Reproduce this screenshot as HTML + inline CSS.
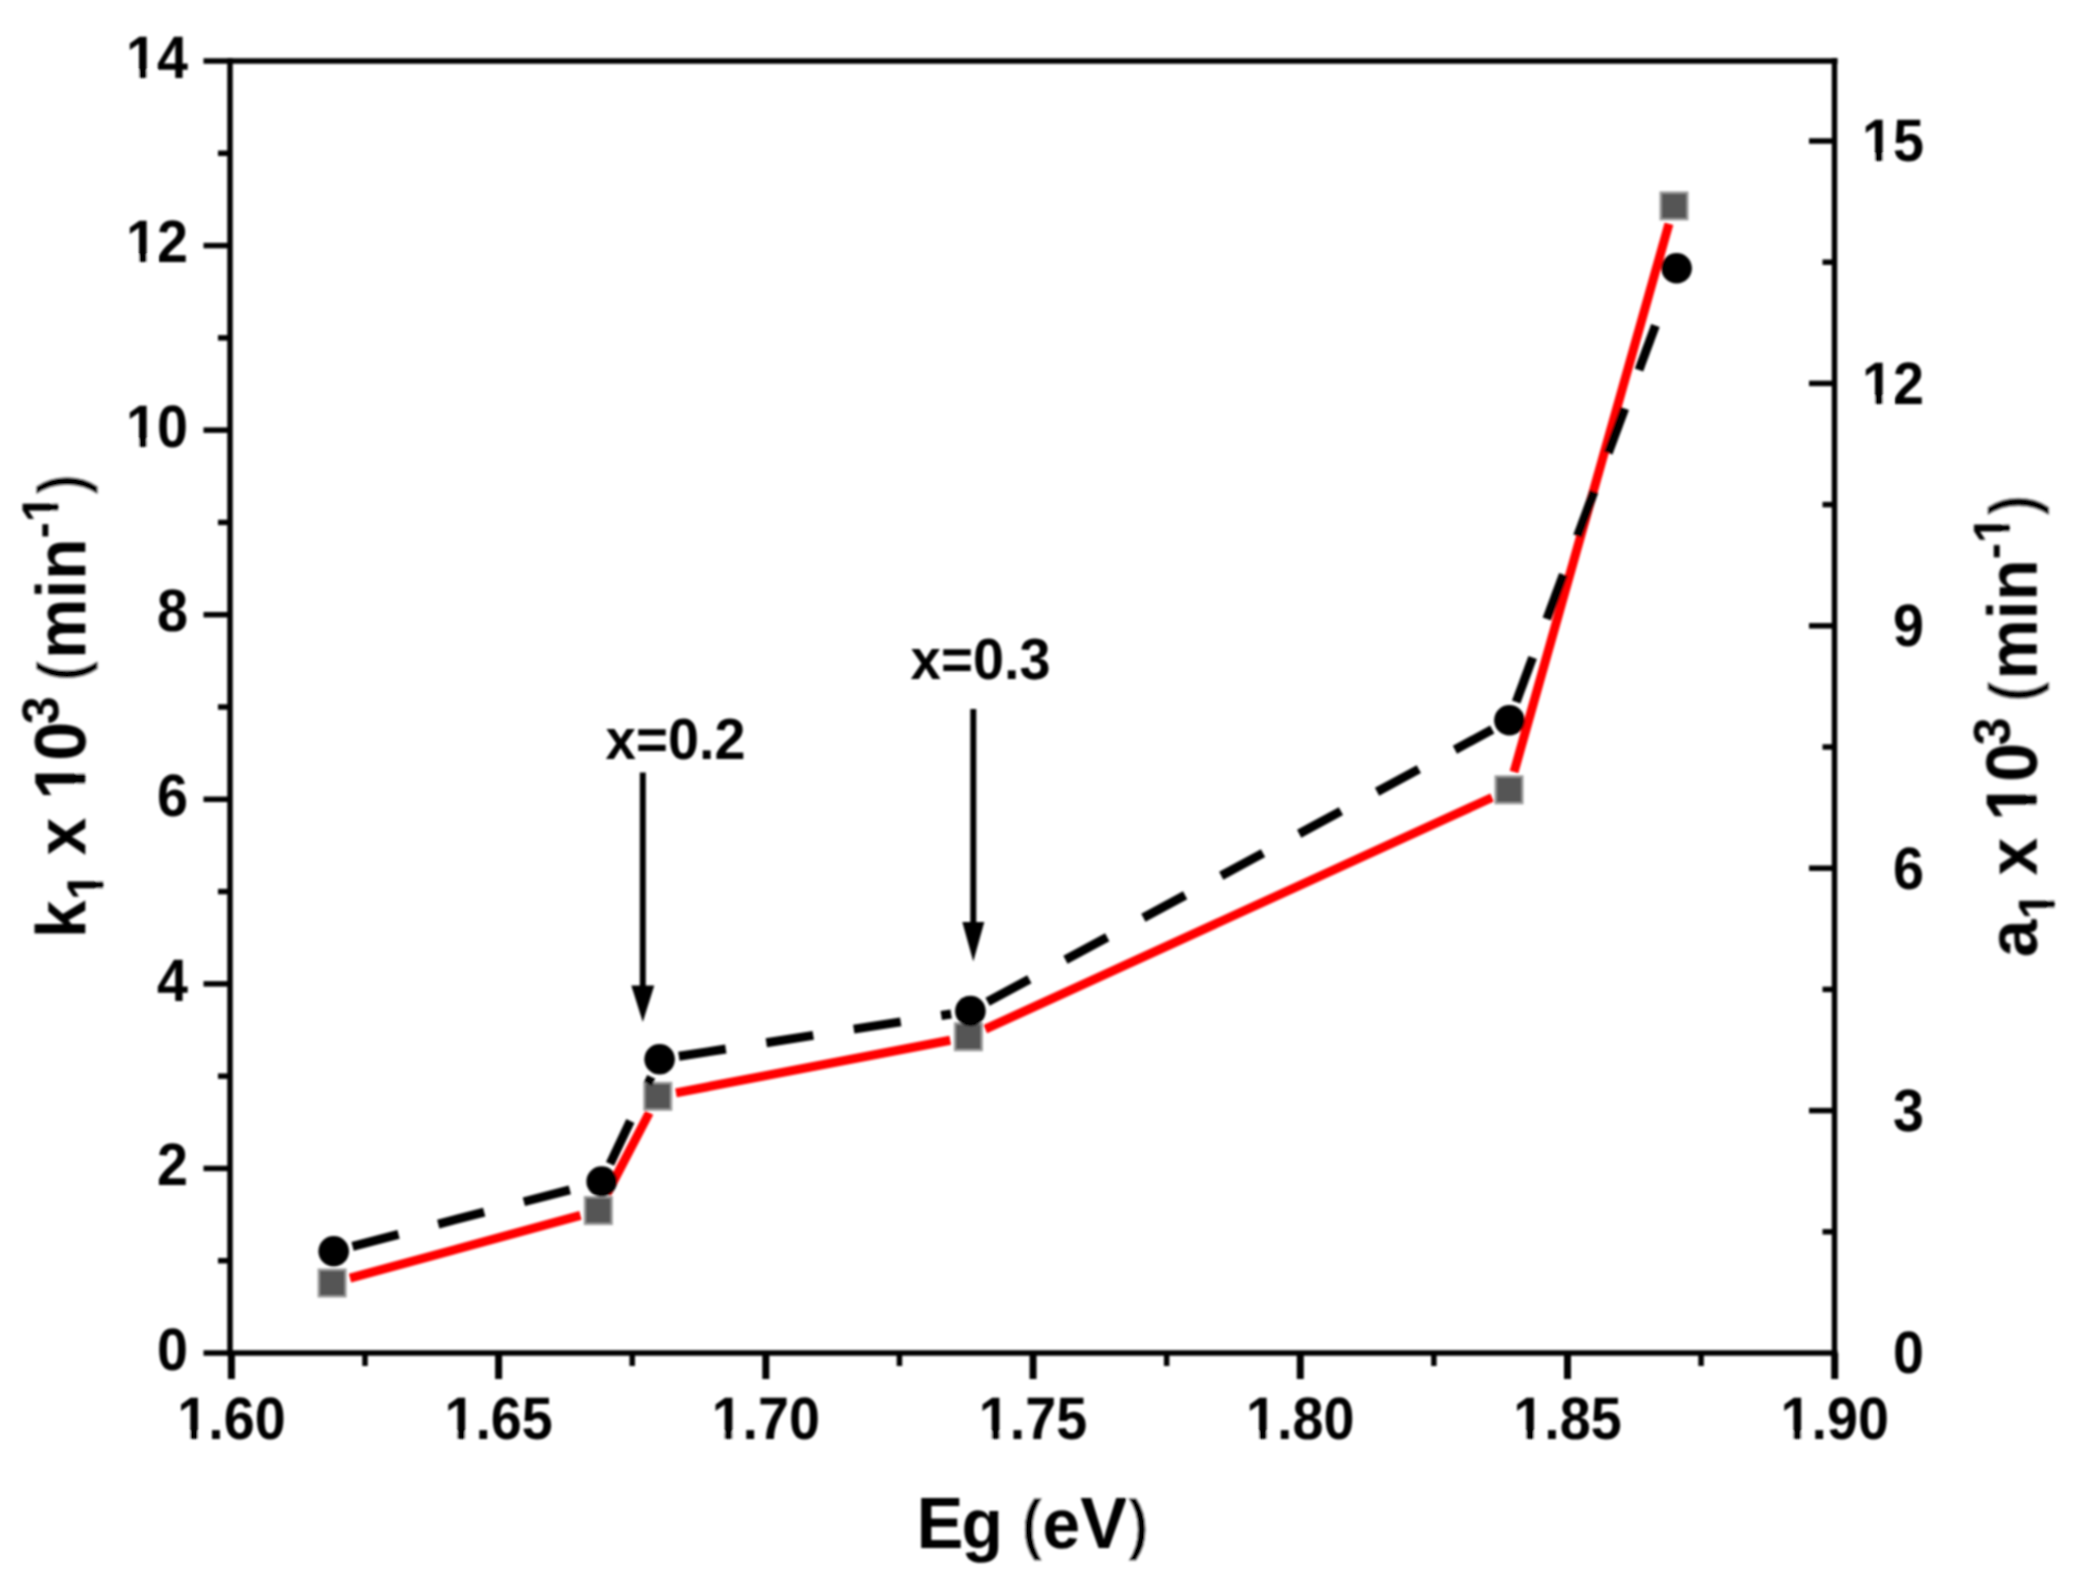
<!DOCTYPE html>
<html><head><meta charset="utf-8"><title>k1 and a1 versus Eg</title>
<style>html,body{margin:0;padding:0;background:#fff}svg{display:block}text{font-family:"Liberation Sans",sans-serif;font-weight:bold;fill:#000;font-kerning:none;text-rendering:geometricPrecision}.w{fill:#fff}</style></head><body>
<svg width="2079" height="1589" viewBox="0 0 2079 1589">
<defs><filter id="soft" x="0" y="0" width="2079" height="1589" filterUnits="userSpaceOnUse"><feGaussianBlur stdDeviation="1.0"/></filter></defs>
<rect width="2079" height="1589" fill="#fff"/>
<g filter="url(#soft)">
<g id="red">
<line x1="349.95" y1="1278.14" x2="580.45" y2="1215.46" stroke="#ff0000" stroke-width="9"/>
<line x1="606.84" y1="1194.19" x2="649.26" y2="1112.71" stroke="#ff0000" stroke-width="9"/>
<line x1="675.97" y1="1092.82" x2="950.23" y2="1040.28" stroke="#ff0000" stroke-width="9"/>
<line x1="985.23" y1="1029.11" x2="1492.17" y2="797.49" stroke="#ff0000" stroke-width="9"/>
<line x1="1514.03" y1="772.00" x2="1668.97" y2="223.70" stroke="#ff0000" stroke-width="9"/>
</g><g id="squares">
<rect x="317.6" y="1268.5" width="29" height="29" fill="#9a9a9a"/>
<rect x="319.9" y="1270.8" width="24.5" height="24.5" fill="#555"/>
<rect x="583.8" y="1196.1" width="29" height="29" fill="#9a9a9a"/>
<rect x="586.0" y="1198.3" width="24.5" height="24.5" fill="#555"/>
<rect x="643.3" y="1081.8" width="29" height="29" fill="#9a9a9a"/>
<rect x="645.5" y="1084.0" width="24.5" height="24.5" fill="#555"/>
<rect x="953.9" y="1022.3" width="29" height="29" fill="#9a9a9a"/>
<rect x="956.1" y="1024.5" width="24.5" height="24.5" fill="#555"/>
<rect x="1494.5" y="775.3" width="29" height="29" fill="#9a9a9a"/>
<rect x="1496.8" y="777.5" width="24.5" height="24.5" fill="#555"/>
<rect x="1659.5" y="191.4" width="29" height="29" fill="#9a9a9a"/>
<rect x="1661.8" y="193.7" width="24.5" height="24.5" fill="#555"/>
</g><g id="dash">
<line x1="352.57" y1="1246.29" x2="398.54" y2="1234.34" stroke="#000" stroke-width="9"/>
<line x1="438.22" y1="1224.02" x2="484.19" y2="1212.06" stroke="#000" stroke-width="9"/>
<line x1="523.87" y1="1201.74" x2="569.84" y2="1189.78" stroke="#000" stroke-width="9"/>
<line x1="610.05" y1="1163.88" x2="630.39" y2="1120.95" stroke="#000" stroke-width="9"/>
<line x1="647.94" y1="1083.90" x2="651.25" y2="1076.92" stroke="#000" stroke-width="9"/>
<line x1="678.87" y1="1056.31" x2="725.81" y2="1049.01" stroke="#000" stroke-width="9"/>
<line x1="766.32" y1="1042.72" x2="813.26" y2="1035.42" stroke="#000" stroke-width="9"/>
<line x1="853.77" y1="1029.13" x2="900.71" y2="1021.83" stroke="#000" stroke-width="9"/>
<line x1="941.22" y1="1015.53" x2="951.13" y2="1013.99" stroke="#000" stroke-width="9"/>
<line x1="987.56" y1="1001.74" x2="1029.37" y2="979.20" stroke="#000" stroke-width="9"/>
<line x1="1065.46" y1="959.73" x2="1107.26" y2="937.19" stroke="#000" stroke-width="9"/>
<line x1="1143.35" y1="917.72" x2="1185.16" y2="895.17" stroke="#000" stroke-width="9"/>
<line x1="1221.24" y1="875.71" x2="1263.05" y2="853.16" stroke="#000" stroke-width="9"/>
<line x1="1299.14" y1="833.70" x2="1340.94" y2="811.15" stroke="#000" stroke-width="9"/>
<line x1="1377.03" y1="791.69" x2="1418.84" y2="769.14" stroke="#000" stroke-width="9"/>
<line x1="1454.92" y1="749.68" x2="1492.24" y2="729.56" stroke="#000" stroke-width="9"/>
<line x1="1516.16" y1="702.01" x2="1532.64" y2="657.46" stroke="#000" stroke-width="9"/>
<line x1="1546.86" y1="619.01" x2="1563.34" y2="574.45" stroke="#000" stroke-width="9"/>
<line x1="1577.56" y1="536.00" x2="1594.04" y2="491.45" stroke="#000" stroke-width="9"/>
<line x1="1608.26" y1="452.99" x2="1624.73" y2="408.44" stroke="#000" stroke-width="9"/>
<line x1="1638.96" y1="369.99" x2="1655.43" y2="325.44" stroke="#000" stroke-width="9"/>
</g><g id="circles">
<circle cx="333.7" cy="1251.2" r="15.3" fill="#000"/>
<circle cx="601.7" cy="1181.5" r="15.3" fill="#000"/>
<circle cx="659.6" cy="1059.3" r="15.3" fill="#000"/>
<circle cx="970.4" cy="1011.0" r="15.3" fill="#000"/>
<circle cx="1509.4" cy="720.3" r="15.3" fill="#000"/>
<circle cx="1676.6" cy="268.2" r="15.3" fill="#000"/>
</g>
<g id="axes">
<line x1="203.50" y1="61.00" x2="1837.50" y2="61.00" stroke="#000" stroke-width="5.5"/>
<line x1="203.50" y1="1353.00" x2="1837.50" y2="1353.00" stroke="#000" stroke-width="5.5"/>
<line x1="230.00" y1="58.00" x2="230.00" y2="1356.00" stroke="#000" stroke-width="5.5"/>
<line x1="1834.50" y1="58.00" x2="1834.50" y2="1356.00" stroke="#000" stroke-width="5.5"/>
<line x1="218.00" y1="1260.71" x2="230.00" y2="1260.71" stroke="#000" stroke-width="5.5"/>
<line x1="203.50" y1="1168.43" x2="230.00" y2="1168.43" stroke="#000" stroke-width="5.5"/>
<line x1="218.00" y1="1076.14" x2="230.00" y2="1076.14" stroke="#000" stroke-width="5.5"/>
<line x1="203.50" y1="983.86" x2="230.00" y2="983.86" stroke="#000" stroke-width="5.5"/>
<line x1="218.00" y1="891.57" x2="230.00" y2="891.57" stroke="#000" stroke-width="5.5"/>
<line x1="203.50" y1="799.29" x2="230.00" y2="799.29" stroke="#000" stroke-width="5.5"/>
<line x1="218.00" y1="707.00" x2="230.00" y2="707.00" stroke="#000" stroke-width="5.5"/>
<line x1="203.50" y1="614.71" x2="230.00" y2="614.71" stroke="#000" stroke-width="5.5"/>
<line x1="218.00" y1="522.43" x2="230.00" y2="522.43" stroke="#000" stroke-width="5.5"/>
<line x1="203.50" y1="430.14" x2="230.00" y2="430.14" stroke="#000" stroke-width="5.5"/>
<line x1="218.00" y1="337.86" x2="230.00" y2="337.86" stroke="#000" stroke-width="5.5"/>
<line x1="203.50" y1="245.57" x2="230.00" y2="245.57" stroke="#000" stroke-width="5.5"/>
<line x1="218.00" y1="153.29" x2="230.00" y2="153.29" stroke="#000" stroke-width="5.5"/>
<line x1="1822.50" y1="1231.80" x2="1834.50" y2="1231.80" stroke="#000" stroke-width="5.5"/>
<line x1="1809.00" y1="1110.60" x2="1834.50" y2="1110.60" stroke="#000" stroke-width="5.5"/>
<line x1="1822.50" y1="989.40" x2="1834.50" y2="989.40" stroke="#000" stroke-width="5.5"/>
<line x1="1809.00" y1="868.20" x2="1834.50" y2="868.20" stroke="#000" stroke-width="5.5"/>
<line x1="1822.50" y1="747.00" x2="1834.50" y2="747.00" stroke="#000" stroke-width="5.5"/>
<line x1="1809.00" y1="625.80" x2="1834.50" y2="625.80" stroke="#000" stroke-width="5.5"/>
<line x1="1822.50" y1="504.60" x2="1834.50" y2="504.60" stroke="#000" stroke-width="5.5"/>
<line x1="1809.00" y1="383.40" x2="1834.50" y2="383.40" stroke="#000" stroke-width="5.5"/>
<line x1="1822.50" y1="262.20" x2="1834.50" y2="262.20" stroke="#000" stroke-width="5.5"/>
<line x1="1809.00" y1="141.00" x2="1834.50" y2="141.00" stroke="#000" stroke-width="5.5"/>
<line x1="231.40" y1="1353.00" x2="231.40" y2="1379.00" stroke="#000" stroke-width="7.0"/>
<line x1="365.01" y1="1353.00" x2="365.01" y2="1366.00" stroke="#000" stroke-width="5.5"/>
<line x1="498.62" y1="1353.00" x2="498.62" y2="1379.00" stroke="#000" stroke-width="7.0"/>
<line x1="632.22" y1="1353.00" x2="632.22" y2="1366.00" stroke="#000" stroke-width="5.5"/>
<line x1="765.83" y1="1353.00" x2="765.83" y2="1379.00" stroke="#000" stroke-width="7.0"/>
<line x1="899.44" y1="1353.00" x2="899.44" y2="1366.00" stroke="#000" stroke-width="5.5"/>
<line x1="1033.05" y1="1353.00" x2="1033.05" y2="1379.00" stroke="#000" stroke-width="7.0"/>
<line x1="1166.66" y1="1353.00" x2="1166.66" y2="1366.00" stroke="#000" stroke-width="5.5"/>
<line x1="1300.27" y1="1353.00" x2="1300.27" y2="1379.00" stroke="#000" stroke-width="7.0"/>
<line x1="1433.88" y1="1353.00" x2="1433.88" y2="1366.00" stroke="#000" stroke-width="5.5"/>
<line x1="1567.48" y1="1353.00" x2="1567.48" y2="1379.00" stroke="#000" stroke-width="7.0"/>
<line x1="1701.09" y1="1353.00" x2="1701.09" y2="1366.00" stroke="#000" stroke-width="5.5"/>
<line x1="1834.70" y1="1353.00" x2="1834.70" y2="1379.00" stroke="#000" stroke-width="7.0"/>
</g>
<g id="labels">
<g transform="translate(188.00,1369.70) scale(0.9313461538461538,1)">
<text><tspan x="-33.26" y="0.00" font-size="59.800000000000004">0</tspan></text>
</g>
<g transform="translate(188.00,1185.13) scale(0.9313461538461538,1)">
<text><tspan x="-33.26" y="0.00" font-size="59.800000000000004">2</tspan></text>
</g>
<g transform="translate(188.00,1000.56) scale(0.9313461538461538,1)">
<text><tspan x="-33.26" y="0.00" font-size="59.800000000000004">4</tspan></text>
</g>
<g transform="translate(188.00,815.99) scale(0.9313461538461538,1)">
<text><tspan x="-33.26" y="0.00" font-size="59.800000000000004">6</tspan></text>
</g>
<g transform="translate(188.00,631.41) scale(0.9313461538461538,1)">
<text><tspan x="-33.26" y="0.00" font-size="59.800000000000004">8</tspan></text>
</g>
<g transform="translate(188.00,446.84) scale(0.9313461538461538,1)">
<text><tspan x="-66.52" y="0.00" font-size="59.800000000000004">10</tspan></text>
<rect class="w" x="-63.74" y="-7.30" width="11.12" height="8.47"/>
<rect class="w" x="-44.30" y="-7.30" width="10.37" height="8.47"/>
</g>
<g transform="translate(188.00,262.27) scale(0.9313461538461538,1)">
<text><tspan x="-66.52" y="0.00" font-size="59.800000000000004">12</tspan></text>
<rect class="w" x="-63.74" y="-7.30" width="11.12" height="8.47"/>
<rect class="w" x="-44.30" y="-7.30" width="10.37" height="8.47"/>
</g>
<g transform="translate(188.00,77.70) scale(0.9313461538461538,1)">
<text><tspan x="-66.52" y="0.00" font-size="59.800000000000004">14</tspan></text>
<rect class="w" x="-63.74" y="-7.30" width="11.12" height="8.47"/>
<rect class="w" x="-44.30" y="-7.30" width="10.37" height="8.47"/>
</g>
<g transform="translate(1924.00,1373.30) scale(0.9313461538461538,1)">
<text><tspan x="-33.26" y="0.00" font-size="59.800000000000004">0</tspan></text>
</g>
<g transform="translate(1924.00,1130.90) scale(0.9313461538461538,1)">
<text><tspan x="-33.26" y="0.00" font-size="59.800000000000004">3</tspan></text>
</g>
<g transform="translate(1924.00,888.50) scale(0.9313461538461538,1)">
<text><tspan x="-33.26" y="0.00" font-size="59.800000000000004">6</tspan></text>
</g>
<g transform="translate(1924.00,646.10) scale(0.9313461538461538,1)">
<text><tspan x="-33.26" y="0.00" font-size="59.800000000000004">9</tspan></text>
</g>
<g transform="translate(1924.00,403.70) scale(0.9313461538461538,1)">
<text><tspan x="-66.52" y="0.00" font-size="59.800000000000004">12</tspan></text>
<rect class="w" x="-63.74" y="-7.30" width="11.12" height="8.47"/>
<rect class="w" x="-44.30" y="-7.30" width="10.37" height="8.47"/>
</g>
<g transform="translate(1924.00,161.30) scale(0.9313461538461538,1)">
<text><tspan x="-66.52" y="0.00" font-size="59.800000000000004">15</tspan></text>
<rect class="w" x="-63.74" y="-7.30" width="11.12" height="8.47"/>
<rect class="w" x="-44.30" y="-7.30" width="10.37" height="8.47"/>
</g>
<g transform="translate(231.40,1439.00) scale(0.9313461538461538,1)">
<text><tspan x="-58.19" y="0.00" font-size="59.800000000000004">1.60</tspan></text>
<rect class="w" x="-55.42" y="-7.30" width="11.12" height="8.47"/>
<rect class="w" x="-35.97" y="-7.30" width="10.37" height="8.47"/>
</g>
<g transform="translate(498.62,1439.00) scale(0.9313461538461538,1)">
<text><tspan x="-58.19" y="0.00" font-size="59.800000000000004">1.65</tspan></text>
<rect class="w" x="-55.42" y="-7.30" width="11.12" height="8.47"/>
<rect class="w" x="-35.97" y="-7.30" width="10.37" height="8.47"/>
</g>
<g transform="translate(765.83,1439.00) scale(0.9313461538461538,1)">
<text><tspan x="-58.19" y="0.00" font-size="59.800000000000004">1.70</tspan></text>
<rect class="w" x="-55.42" y="-7.30" width="11.12" height="8.47"/>
<rect class="w" x="-35.97" y="-7.30" width="10.37" height="8.47"/>
</g>
<g transform="translate(1033.05,1439.00) scale(0.9313461538461538,1)">
<text><tspan x="-58.19" y="0.00" font-size="59.800000000000004">1.75</tspan></text>
<rect class="w" x="-55.42" y="-7.30" width="11.12" height="8.47"/>
<rect class="w" x="-35.97" y="-7.30" width="10.37" height="8.47"/>
</g>
<g transform="translate(1300.27,1439.00) scale(0.9313461538461538,1)">
<text><tspan x="-58.19" y="0.00" font-size="59.800000000000004">1.80</tspan></text>
<rect class="w" x="-55.42" y="-7.30" width="11.12" height="8.47"/>
<rect class="w" x="-35.97" y="-7.30" width="10.37" height="8.47"/>
</g>
<g transform="translate(1567.48,1439.00) scale(0.9313461538461538,1)">
<text><tspan x="-58.19" y="0.00" font-size="59.800000000000004">1.85</tspan></text>
<rect class="w" x="-55.42" y="-7.30" width="11.12" height="8.47"/>
<rect class="w" x="-35.97" y="-7.30" width="10.37" height="8.47"/>
</g>
<g transform="translate(1834.70,1439.00) scale(0.9313461538461538,1)">
<text><tspan x="-58.19" y="0.00" font-size="59.800000000000004">1.90</tspan></text>
<rect class="w" x="-55.42" y="-7.30" width="11.12" height="8.47"/>
<rect class="w" x="-35.97" y="-7.30" width="10.37" height="8.47"/>
</g>
</g>
<g id="xtitle">
<g transform="translate(900.00,1547.50) scale(0.967,1)">
<text><tspan x="16.95" y="0.00" font-size="72.8">E</tspan><tspan x="63.73" y="0.00" font-size="70">g </tspan><tspan x="125.05" y="-0.90" font-size="68" stroke="#fff" stroke-width="1.2">(</tspan><tspan x="147.42" y="0.00" font-size="70">e</tspan><tspan x="186.47" y="0.00" font-size="72.8">V</tspan><tspan x="235.40" y="-0.90" font-size="68" stroke="#fff" stroke-width="1.2">)</tspan></text>
</g>
</g>
<g id="ytitle-left">
<g transform="translate(85.30,1000.00) rotate(-90) scale(0.967,1)">
<text><tspan x="63.99" y="0.00" font-size="70">k</tspan><tspan x="103.37" y="18.00" font-size="52.0">1 </tspan><tspan x="149.57" y="0.00" font-size="70">x </tspan><tspan x="206.92" y="0.00" font-size="72.8">10</tspan><tspan x="285.16" y="-27.00" font-size="52.0">3 </tspan><tspan x="329.13" y="-0.80" font-size="67" stroke="#fff" stroke-width="1.2">(</tspan><tspan x="352.88" y="0.00" font-size="70">min</tspan><tspan x="477.36" y="-27.00" font-size="50">-</tspan><tspan x="494.01" y="-27.00" font-size="52.0">1</tspan><tspan x="522.17" y="-0.80" font-size="67" stroke="#fff" stroke-width="1.2">)</tspan></text>
<rect class="w" x="105.79" y="11.65" width="9.67" height="7.36"/>
<rect class="w" x="122.70" y="11.65" width="9.01" height="7.36"/>
<rect class="w" x="210.29" y="-8.89" width="13.54" height="10.31"/>
<rect class="w" x="233.97" y="-8.89" width="12.62" height="10.31"/>
<rect class="w" x="496.43" y="-33.35" width="9.67" height="7.36"/>
<rect class="w" x="513.34" y="-33.35" width="9.01" height="7.36"/>
</g>
</g><g id="ytitle-right">
<g transform="translate(2036.70,1000.00) rotate(-90) scale(0.967,1)">
<text><tspan x="44.38" y="0.00" font-size="70">a</tspan><tspan x="83.42" y="18.00" font-size="52.0">1 </tspan><tspan x="128.68" y="0.00" font-size="70">x </tspan><tspan x="185.10" y="0.00" font-size="72.8">10</tspan><tspan x="263.13" y="-27.00" font-size="52.0">3 </tspan><tspan x="307.62" y="-0.80" font-size="67" stroke="#fff" stroke-width="1.2">(</tspan><tspan x="331.37" y="0.00" font-size="70">min</tspan><tspan x="455.85" y="-27.00" font-size="50">-</tspan><tspan x="472.50" y="-27.00" font-size="52.0">1</tspan><tspan x="500.66" y="-0.80" font-size="67" stroke="#fff" stroke-width="1.2">)</tspan></text>
<rect class="w" x="85.83" y="11.65" width="9.67" height="7.36"/>
<rect class="w" x="102.74" y="11.65" width="9.01" height="7.36"/>
<rect class="w" x="188.47" y="-8.89" width="13.54" height="10.31"/>
<rect class="w" x="212.15" y="-8.89" width="12.62" height="10.31"/>
<rect class="w" x="474.92" y="-33.35" width="9.67" height="7.36"/>
<rect class="w" x="491.83" y="-33.35" width="9.01" height="7.36"/>
</g>
</g>
<g id="annotations">
<g transform="translate(605.50,759.00) scale(0.96,1)">
<text><tspan x="0.00" y="0.00" font-size="57">x=</tspan><tspan x="64.99" y="0.00" font-size="58.1">0.2</tspan></text>
</g>
<g transform="translate(910.50,679.00) scale(0.96,1)">
<text><tspan x="0.00" y="0.00" font-size="57">x=</tspan><tspan x="64.99" y="0.00" font-size="58.1">0.3</tspan></text>
</g>
<line x1="642.80" y1="772.60" x2="642.80" y2="989.60" stroke="#000" stroke-width="6"/>
<polygon points="631.3,985.6 654.3,985.6 642.8,1022.0" fill="#000"/>
<line x1="973.30" y1="709.10" x2="973.30" y2="926.00" stroke="#000" stroke-width="6"/>
<polygon points="962.3,922.0 984.3,922.0 973.3,961.5" fill="#000"/>
</g>
</g></svg></body></html>
